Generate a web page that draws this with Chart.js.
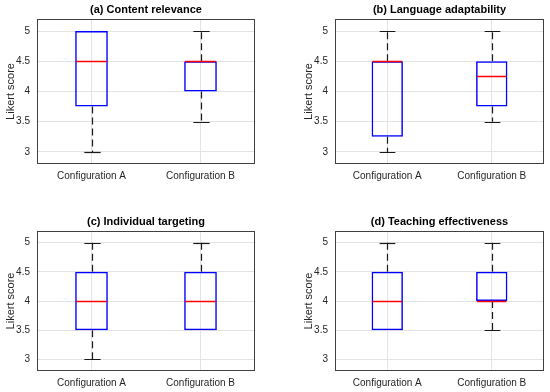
<!DOCTYPE html>
<html>
<head>
<meta charset="utf-8">
<script src="https://cdn.jsdelivr.net/npm/chart.js@4"></script>
<style>
  html, body { margin: 0; padding: 0; background: #fff; }
  #wrap { position: relative; width: 550px; height: 392px; overflow: hidden; }
  .panel { position: absolute; width: 275px; height: 196px; }
</style>
</head>
<body>
<div id="wrap">
  <div class="panel" style="left:0;top:0"><canvas id="c0" width="275" height="196"></canvas></div>
  <div class="panel" style="left:275px;top:0"><canvas id="c1" width="275" height="196"></canvas></div>
  <div class="panel" style="left:0;top:196px"><canvas id="c2" width="275" height="196"></canvas></div>
  <div class="panel" style="left:275px;top:196px"><canvas id="c3" width="275" height="196"></canvas></div>
</div>
<script>
// categories and panel titles
const categories = ['Configuration A', 'Configuration B'];
const panelTitles = ['(a) Content relevance', '(b) Language adaptability', '(c) Individual targeting', '(d) Teaching effectiveness'];
const yTicks = [3, 3.5, 4, 4.5, 5];

// box plot stats per panel: [Config A, Config B]
const minVals = [[3, 3.5], [3, 3.5], [3, 3.5], [3.5, 3.5]];
const q1Vals = [[3.75, 4], [3.25, 3.75], [3.5, 3.5], [3.5, 4]];
const medVals = [[4.5, 4.5], [4.5, 4.25], [4, 4], [4, 4]];
const q3Vals = [[5, 4.5], [4.5, 4.5], [4.5, 4.5], [4.5, 4.5]];
const maxVals = [[5, 5], [5, 5], [5, 5], [5, 5]];

const FONT = 'Liberation Sans, Arial, sans-serif';

// whiskers, caps, medians, frame and title centred on the axes
const boxPlugin = {
  id: 'boxExtras',
  afterDraw(chart) {
    const p = chart.options.plugins.boxExtras;
    const ctx = chart.ctx;
    const y = chart.scales.y;
    const area = chart.chartArea;
    const bars = chart.getDatasetMeta(0).data;
    ctx.save();
    bars.forEach((bar, i) => {
      const cx = Math.round(bar.x) + 0.5;
      const half = bar.width / 2;
      const capHalf = half / 2;
      // whiskers
      ctx.strokeStyle = '#1a1a1a';
      ctx.lineWidth = 1.2;
      ctx.setLineDash([7, 4]);
      ctx.beginPath();
      if (p.max[i] > p.q3[i]) {
        ctx.moveTo(cx, y.getPixelForValue(p.q3[i]));
        ctx.lineTo(cx, y.getPixelForValue(p.max[i]));
      }
      if (p.min[i] < p.q1[i]) {
        ctx.moveTo(cx, y.getPixelForValue(p.q1[i]));
        ctx.lineTo(cx, y.getPixelForValue(p.min[i]));
      }
      ctx.stroke();
      ctx.setLineDash([]);
      // caps
      ctx.beginPath();
      if (p.max[i] > p.q3[i]) {
        const yy = Math.round(y.getPixelForValue(p.max[i])) + 0.5;
        ctx.moveTo(cx - capHalf, yy);
        ctx.lineTo(cx + capHalf, yy);
      }
      if (p.min[i] < p.q1[i]) {
        const yy = Math.round(y.getPixelForValue(p.min[i])) + 0.5;
        ctx.moveTo(cx - capHalf, yy);
        ctx.lineTo(cx + capHalf, yy);
      }
      ctx.stroke();
    });
    // medians on top
    ctx.strokeStyle = 'rgb(255,0,0)';
    ctx.lineWidth = 1.5;
    bars.forEach((bar, i) => {
      const half = bar.width / 2 - 1;
      const ym = Math.round(y.getPixelForValue(p.med[i])) + 0.5;
      ctx.beginPath();
      ctx.moveTo(bar.x - half, ym);
      ctx.lineTo(bar.x + half, ym);
      ctx.stroke();
    });
    // axes box
    ctx.strokeStyle = '#404040';
    ctx.lineWidth = 1;
    ctx.strokeRect(Math.round(area.left) + 0.5, Math.round(area.top) + 0.5,
      Math.round(area.right - area.left) - 1, Math.round(area.bottom - area.top) - 1);
    // title
    ctx.fillStyle = '#000';
    ctx.font = 'bold 11px ' + FONT;
    ctx.textAlign = 'center';
    ctx.textBaseline = 'middle';
    ctx.fillText(p.title, (area.left + area.right) / 2, area.top - 9);
    ctx.restore();
  }
};

function makePanel(idx) {
  const isRight = idx % 2 === 1;
  const isBottom = idx >= 2;
  const boxes = categories.map((c, i) => [q1Vals[idx][i], q3Vals[idx][i]]);

  new Chart(document.getElementById('c' + idx), {
    type: 'bar',
    data: {
      labels: categories,
      datasets: [{
        data: boxes,
        backgroundColor: 'rgba(0,0,0,0)',
        borderColor: '#0000ff',
        borderWidth: 1.5,
        borderSkipped: false,
        barPercentage: 0.3,
        categoryPercentage: 1
      }]
    },
    options: {
      responsive: false,
      animation: false,
      devicePixelRatio: 1,
      layout: {
        padding: {
          left: isRight ? 23 : 0,
          right: isRight ? 6 : 20,
          top: isBottom ? 35 : 19,
          bottom: 0
        }
      },
      plugins: {
        legend: { display: false },
        tooltip: { enabled: false },
        title: { display: false },
        boxExtras: {
          title: panelTitles[idx],
          min: minVals[idx], q1: q1Vals[idx], med: medVals[idx], q3: q3Vals[idx], max: maxVals[idx]
        }
      },
      scales: {
        x: {
          offset: true,
          grid: { offset: false, color: '#e3e3e3', drawTicks: false },
          border: { display: false },
          ticks: {
            color: '#262626',
            padding: 6,
            maxRotation: 0,
            font: { family: FONT, size: 10 }
          },
          afterFit(s) { s.height = isBottom ? 21 : 32; }
        },
        y: {
          min: 2.8,
          max: 5.2,
          afterBuildTicks(s) { s.ticks = yTicks.map(v => ({ value: v })); },
          grid: { color: '#e3e3e3', drawTicks: false },
          border: { display: false },
          ticks: {
            color: '#262626',
            padding: 7,
            font: { family: FONT, size: 10 },
            callback: (v) => String(v)
          },
          title: {
            display: true,
            text: 'Likert score',
            color: '#262626',
            padding: { top: 4, bottom: 0 },
            font: { family: FONT, size: 11 }
          },
          afterFit(s) { s.width = 37; }
        }
      }
    },
    plugins: [boxPlugin]
  });
}

[0, 1, 2, 3].forEach(makePanel);
</script>
</body>
</html>
